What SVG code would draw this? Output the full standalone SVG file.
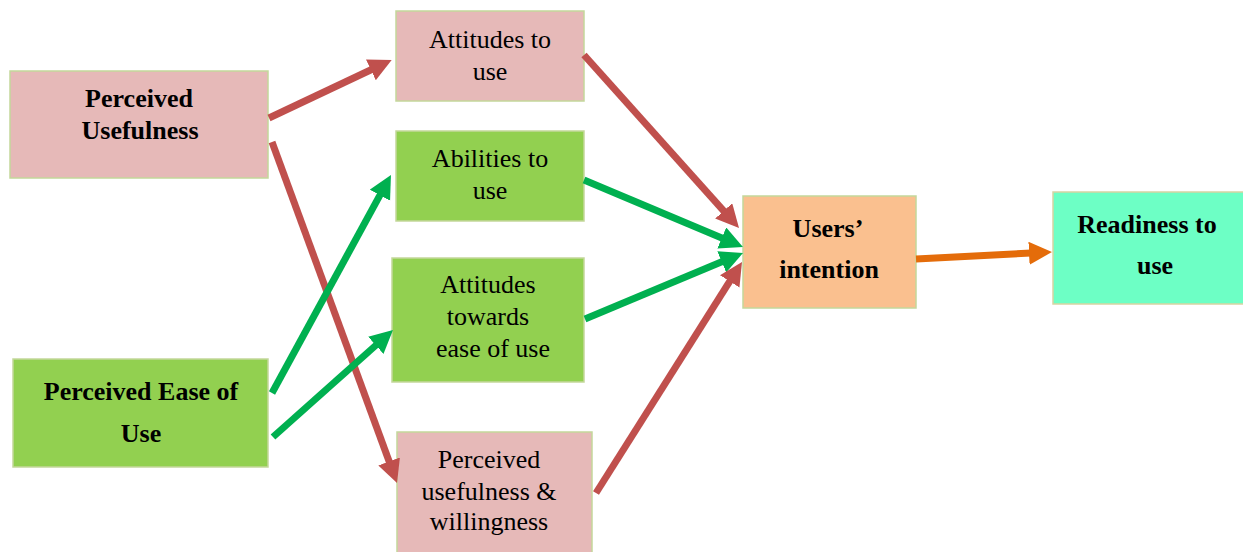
<svg xmlns="http://www.w3.org/2000/svg" width="1243" height="552" viewBox="0 0 1243 552">
<style>
.box{stroke:#C4D79B;stroke-width:1.5}
.pink{fill:#E6B9B8}
.green{fill:#92D050}
.orange{fill:#FAC08F}
.aqua{fill:#6DFFC5;stroke:#D8D4A2}
text{font-family:"Liberation Serif","Times New Roman",serif;font-size:26px;fill:#000;text-anchor:middle}
.b{font-weight:bold}
.c{fill:none;stroke-width:7}
.red{stroke:#C0504D}
.grn{stroke:#00B050}
.org{stroke:#E46C0A}
</style>
<defs>
<marker id="hr" markerUnits="userSpaceOnUse" markerWidth="24" markerHeight="24" refX="2" refY="11.5" orient="auto"><path d="M0,0 L23,11.5 L0,23 z" fill="#C0504D"/></marker>
<marker id="hg" markerUnits="userSpaceOnUse" markerWidth="24" markerHeight="24" refX="2" refY="11.5" orient="auto"><path d="M0,0 L23,11.5 L0,23 z" fill="#00B050"/></marker>
<marker id="ho" markerUnits="userSpaceOnUse" markerWidth="24" markerHeight="24" refX="2" refY="11.5" orient="auto"><path d="M0,0 L23,11.5 L0,23 z" fill="#E46C0A"/></marker>
</defs>
<g id="n-pu"><rect class="box pink" x="10" y="71" width="258" height="107"/><text class="b" x="139" y="107">Perceived</text><text class="b" x="140" y="139">Usefulness</text></g>
<g id="n-peu"><rect class="box green" x="13" y="359" width="255" height="108"/><text class="b" x="141" y="400">Perceived Ease of</text><text class="b" x="141" y="442">Use</text></g>
<g id="n-au"><rect class="box pink" x="396" y="11" width="188" height="90"/><text x="490" y="48">Attitudes to</text><text x="490" y="80">use</text></g>
<g id="n-ab"><rect class="box green" x="396" y="131" width="188" height="90"/><text x="490" y="167">Abilities to</text><text x="490" y="199">use</text></g>
<g id="n-ateu"><rect class="box green" x="392" y="258" width="192" height="124"/><text x="488" y="293">Attitudes</text><text x="488" y="325">towards</text><text x="493" y="357">ease of use</text></g>
<g id="n-puw"><rect class="box pink" x="397" y="432" width="195" height="125"/><text x="489" y="468">Perceived</text><text x="489" y="500">usefulness &amp;</text><text x="489" y="530">willingness</text></g>
<g id="n-ui"><rect class="box orange" x="743" y="196" width="173" height="112"/><text class="b" x="828" y="237">Users’</text><text class="b" x="829" y="278">intention</text></g>
<g id="n-ru"><rect class="box aqua" x="1053" y="192" width="195" height="112"/><text class="b" x="1147" y="233">Readiness to</text><text class="b" x="1155" y="274">use</text></g>
<g id="connectors">
<line class="c red" x1="269" y1="118" x2="372.7" y2="69" marker-end="url(#hr)"/>
<line class="c red" x1="272" y1="142" x2="389.8" y2="463.3" marker-end="url(#hr)"/>
<line class="c grn" x1="272" y1="393" x2="380.9" y2="193.4" marker-end="url(#hg)"/>
<line class="c grn" x1="273" y1="437" x2="377.3" y2="344" marker-end="url(#hg)"/>
<line class="c red" x1="584" y1="55" x2="725" y2="212.4" marker-end="url(#hr)"/>
<line class="c grn" x1="584" y1="180" x2="723.6" y2="238.8" marker-end="url(#hg)"/>
<line class="c grn" x1="585" y1="319" x2="723.6" y2="261.1" marker-end="url(#hg)"/>
<line class="c red" x1="596" y1="493" x2="730.8" y2="279.7" marker-end="url(#hr)"/>
<line class="c org" x1="916" y1="259" x2="1031" y2="253.1" marker-end="url(#ho)"/>
</g>
</svg>
